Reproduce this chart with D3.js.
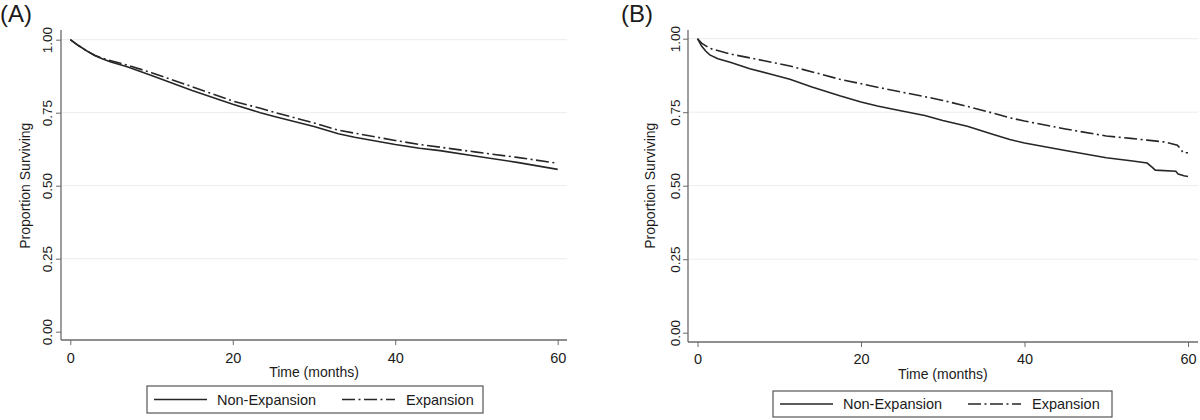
<!DOCTYPE html>
<html>
<head>
<meta charset="utf-8">
<script src="https://cdn.jsdelivr.net/npm/d3@7"></script>
<style>
  body { margin: 0; background: #fff; }
  svg text { font-family: "Liberation Sans", Arial, sans-serif; fill: #1b1b1b; }
</style>
</head>
<body>
<div id="chart"></div>
<script>
// tick values shared by both panels
const xTicks = [0, 20, 40, 60];
const yTicks = [0, 0.25, 0.5, 0.75, 1];
const seriesNames = ["Non-Expansion", "Expansion"];

// panel A (months, proportion surviving)
const timeA = [0, 1, 2, 3, 4, 5, 7, 10, 15, 20, 23.4, 25, 30, 33, 35, 40, 43, 45.5, 50, 55, 60];
const nonExpansionA = [1.0, 0.98, 0.962, 0.946, 0.934, 0.924, 0.907, 0.877, 0.826, 0.779, 0.75, 0.738, 0.703, 0.678, 0.666, 0.641, 0.628, 0.620, 0.601, 0.58, 0.556];
const expansionA = [1.0, 0.98, 0.962, 0.947, 0.936, 0.928, 0.913, 0.887, 0.839, 0.79, 0.765, 0.752, 0.715, 0.69, 0.68, 0.655, 0.641, 0.632, 0.615, 0.597, 0.577];

// panel B
const timeNonB = [0, 0.5, 1, 1.5, 2.5, 4, 6.4, 9, 11.3, 14, 17.4, 20, 22, 25, 27.8, 30, 33, 36, 38.2, 40, 45, 50, 53, 55, 55.6, 56, 58.5, 58.8, 59.5, 60];
const nonExpansionB = [1, 0.975, 0.958, 0.945, 0.932, 0.92, 0.898, 0.879, 0.862, 0.836, 0.806, 0.785, 0.771, 0.754, 0.739, 0.722, 0.702, 0.676, 0.657, 0.645, 0.62, 0.595, 0.585, 0.577, 0.563, 0.553, 0.549, 0.54, 0.534, 0.531];
const timeExpB = [0, 0.5, 1.5, 4, 8, 11.3, 15, 17.4, 20, 22, 25, 27.8, 30, 33, 36, 38.2, 40, 45, 50, 53, 55, 57, 58, 58.7, 59.1, 59.4, 60];
const expansionB = [1, 0.985, 0.967, 0.948, 0.926, 0.907, 0.88, 0.862, 0.847, 0.835, 0.818, 0.803, 0.79, 0.77, 0.748, 0.731, 0.72, 0.693, 0.669, 0.661, 0.655, 0.649, 0.643, 0.638, 0.625, 0.612, 0.612];

const svg = d3.select('#chart').append('svg')
  .attr('width', 1200)
  .attr('height', 420);

const lineColor = '#262626';
const axisColor = '#6a6a6a';
const dashDot = '13,3.5,2,3.5';

function zip(ts, vs) {
  return ts.map(function (t, i) { return { t: t, v: vs[i] }; });
}

function renderPanel(p) {
  const x = d3.scaleLinear().domain([0, 60]).range([p.x0, p.x60]);
  const y = d3.scaleLinear().domain([0, 1]).range([p.y0, p.y1]);
  const g = svg.append('g');

  // light grid under everything
  g.append('g').selectAll('line')
    .data(yTicks.filter(function (d) { return d > 0; }))
    .enter().append('line')
      .attr('x1', p.axisX).attr('x2', p.right)
      .attr('y1', function (d) { return y(d); })
      .attr('y2', function (d) { return y(d); })
      .attr('stroke', '#ececec');

  const yAxis = g.append('g')
    .attr('transform', 'translate(' + p.axisX + ',0)')
    .call(d3.axisLeft(y).tickValues(yTicks).tickSize(5).tickFormat(d3.format('.2f')));
  yAxis.select('.domain').remove();
  yAxis.selectAll('.tick line').attr('stroke', axisColor);
  yAxis.selectAll('.tick text')
    .attr('x', 0).attr('dy', 0)
    .attr('text-anchor', 'middle')
    .attr('font-size', 13.5)
    .attr('transform', 'translate(' + (p.yLabelX - p.axisX) + ',0) rotate(-90)');

  const xAxis = g.append('g')
    .attr('transform', 'translate(0,' + p.axisY + ')')
    .call(d3.axisBottom(x).tickValues(xTicks).tickSize(5));
  xAxis.select('.domain').remove();
  xAxis.selectAll('.tick line').attr('stroke', axisColor);
  xAxis.selectAll('.tick text')
    .attr('y', p.xLabelY - p.axisY).attr('dy', 0)
    .attr('font-size', 14.5);

  // axis lines run past the data range
  g.append('line')
    .attr('x1', p.axisX).attr('x2', p.axisX)
    .attr('y1', p.top).attr('y2', p.axisY)
    .attr('stroke', axisColor).attr('stroke-width', 1.3);
  g.append('line')
    .attr('x1', p.axisX).attr('x2', p.right)
    .attr('y1', p.axisY).attr('y2', p.axisY)
    .attr('stroke', axisColor).attr('stroke-width', 1.3);

  g.append('text')
    .attr('transform', 'translate(' + p.yTitleX + ',' + ((p.y0 + p.y1) / 2) + ') rotate(-90)')
    .attr('text-anchor', 'middle')
    .attr('font-size', 14)
    .text('Proportion Surviving');
  g.append('text')
    .attr('x', (p.x0 + p.x60) / 2).attr('y', p.xTitleY)
    .attr('text-anchor', 'middle')
    .attr('font-size', 14)
    .text('Time (months)');
  g.append('text')
    .attr('x', p.labelX).attr('y', 22)
    .attr('font-size', 24)
    .text(p.label);

  const line = d3.line()
    .x(function (d) { return x(d.t); })
    .y(function (d) { return y(d.v); });

  g.append('path')
    .attr('d', line(zip(p.expT, p.exp)))
    .attr('fill', 'none').attr('stroke', lineColor).attr('stroke-width', 1.6)
    .attr('stroke-dasharray', dashDot);
  g.append('path')
    .attr('d', line(zip(p.nonT, p.non)))
    .attr('fill', 'none').attr('stroke', lineColor).attr('stroke-width', 1.6);

  // legend
  const lg = g.append('g').attr('transform', 'translate(' + p.legend.x + ',' + p.legend.y + ')');
  lg.append('rect')
    .attr('width', p.legend.w).attr('height', p.legend.h)
    .attr('fill', '#fff').attr('stroke', '#555').attr('stroke-width', 1.2);
  const mid = p.legend.h / 2;
  lg.append('line').attr('x1', 7).attr('x2', 60).attr('y1', mid).attr('y2', mid)
    .attr('stroke', lineColor).attr('stroke-width', 1.6);
  lg.append('text').attr('x', 70).attr('y', mid).attr('dy', '0.36em')
    .attr('font-size', 14.5).text(seriesNames[0]);
  lg.append('line').attr('x1', 195).attr('x2', 248).attr('y1', mid).attr('y2', mid)
    .attr('stroke', lineColor).attr('stroke-width', 1.6).attr('stroke-dasharray', dashDot);
  lg.append('text').attr('x', 259).attr('y', mid).attr('dy', '0.36em')
    .attr('font-size', 14.5).text(seriesNames[1]);
}

renderPanel({
  label: '(A)', labelX: 0,
  axisX: 61, axisY: 340, top: 30, right: 567,
  x0: 70.3, x60: 557.7, y0: 331.7, y1: 39.7,
  yLabelX: 52, yTitleX: 30, xLabelY: 363, xTitleY: 377,
  nonT: timeA, non: nonExpansionA, expT: timeA, exp: expansionA,
  legend: { x: 147, y: 386, w: 336, h: 27 }
});

renderPanel({
  label: '(B)', labelX: 621,
  axisX: 688, axisY: 342, top: 30, right: 1198,
  x0: 697.5, x60: 1188, y0: 332.7, y1: 38.7,
  yLabelX: 680, yTitleX: 655, xLabelY: 364, xTitleY: 379,
  nonT: timeNonB, non: nonExpansionB, expT: timeExpB, exp: expansionB,
  legend: { x: 773, y: 391, w: 339, h: 26 }
});
</script>
</body>
</html>
